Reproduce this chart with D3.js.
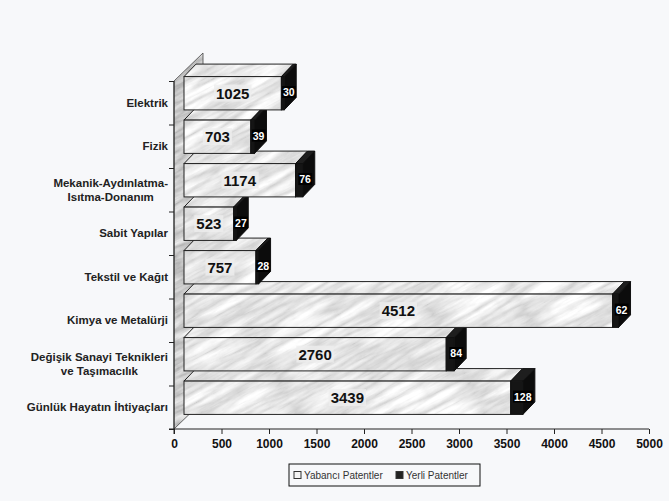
<!DOCTYPE html>
<html>
<head>
<meta charset="utf-8">
<script src="https://cdn.jsdelivr.net/npm/d3@7"></script>
<style>
  body { margin: 0; background: #f7f8fa; }
  text { font-family: "Liberation Sans", Arial, sans-serif; }
</style>
</head>
<body>
<div class="chart"></div>
<script>
// categories, top to bottom
const categories = [
    "Elektrik",
    "Fizik",
    "Mekanik-Aydınlatma-\nIsıtma-Donanım",
    "Sabit Yapılar",
    "Tekstil ve Kağıt",
    "Kimya ve Metalürji",
    "Değişik Sanayi Teknikleri\nve Taşımacılık",
    "Günlük Hayatın İhtiyaçları"
];
const yabanci = [1025, 703, 1174, 523, 757, 4512, 2760, 3439];
const yerli = [30, 39, 76, 27, 28, 62, 84, 128];
const xTicks = [0, 500, 1000, 1500, 2000, 2500, 3000, 3500, 4000, 4500, 5000];
const seriesNames = ["Yabancı Patentler", "Yerli Patentler"];

const outerWidth = 669;
const outerHeight = 501;

const svg = d3.select(".chart")
    .append("svg")
    .attr("width", outerWidth)
    .attr("height", outerHeight);

svg.append("rect")
    .attr("width", outerWidth)
    .attr("height", outerHeight)
    .attr("fill", "#f7f8fa");

// marble textures (one big tile so no seams show)
const defs = svg.append("defs");
function marble(id, base, gain, seed, freq) {
    const f = defs.append("filter")
        .attr("id", id + "F")
        .attr("x", 0).attr("y", 0).attr("width", 1).attr("height", 1);
    f.append("feTurbulence")
        .attr("type", "turbulence")
        .attr("baseFrequency", freq)
        .attr("numOctaves", 5)
        .attr("seed", seed);
    f.append("feColorMatrix")
        .attr("type", "matrix")
        .attr("values", `${gain} 0 0 0 ${base}  ${gain} 0 0 0 ${base}  ${gain} 0 0 0 ${base}  0 0 0 0 1`);
    const p = defs.append("pattern")
        .attr("id", id)
        .attr("patternUnits", "userSpaceOnUse")
        .attr("width", 1200).attr("height", 1200)
        .attr("patternTransform", "translate(-300,0) rotate(-28)");
    p.append("rect")
        .attr("width", 1200).attr("height", 1200)
        .attr("filter", `url(#${id}F)`);
}
marble("marbleBar", 0.6, 0.65, 4, "0.012 0.09");
marble("marbleWall", 0.4, 0.65, 9, "0.02 0.12");

// scales
const xScale = d3.scaleLinear()
    .domain([0, 5000])
    .range([174, 649]);

const yScale = d3.scaleBand()
    .domain(categories)
    .range([81, 429])
    .paddingInner(0.234)
    .paddingOuter(0.117);

const tickScale = d3.scaleLinear()
    .domain([0, categories.length])
    .range([81, 429]);

// 3D offsets
const front = {dx: 10, dy: 9.5};   // bars sit behind the axis plane
const depth = {dx: 12, dy: 12.5};  // bar depth
const wallDepth = {dx: 29, dy: 28};

// side wall
const x0 = xScale(0);
const yTop = tickScale(0), yBot = tickScale(categories.length);
svg.append("path")
    .attr("d", `M${x0},${yTop} L${x0 + wallDepth.dx},${yTop - wallDepth.dy} L${x0 + wallDepth.dx},${yBot - wallDepth.dy} L${x0},${yBot} Z`)
    .attr("fill", "url(#marbleWall)")
    .attr("stroke", "#444")
    .attr("stroke-width", 0.8);

// bars, bottom to top so upper bars cover the top faces below
const bars = svg.append("g");
const idx = d3.range(categories.length).reverse();

function quad(pts) {
    return "M" + pts.map(p => p.join(",")).join("L") + "Z";
}

idx.forEach(i => {
    const g = bars.append("g");
    const yf = yScale(categories[i]) - front.dy;
    const h = yScale.bandwidth();
    const xa = xScale(0) + front.dx;
    const xb = xScale(yabanci[i]) + front.dx;
    const xc = xScale(yabanci[i] + yerli[i]) + front.dx;

    // white top face
    g.append("path")
        .attr("d", quad([[xa, yf], [xa + depth.dx, yf - depth.dy], [xb + depth.dx, yf - depth.dy], [xb, yf]]))
        .attr("fill", "url(#marbleBar)")
        .attr("stroke", "#222").attr("stroke-width", 1);
    // white front
    g.append("rect")
        .attr("x", xa).attr("y", yf)
        .attr("width", xb - xa).attr("height", h)
        .attr("fill", "url(#marbleBar)")
        .attr("stroke", "#222").attr("stroke-width", 1);
    // dark top
    g.append("path")
        .attr("d", quad([[xb, yf], [xb + depth.dx, yf - depth.dy], [xc + depth.dx, yf - depth.dy], [xc, yf]]))
        .attr("fill", "#1e1e1e")
        .attr("stroke", "#111");
    // dark side
    g.append("path")
        .attr("d", quad([[xc, yf], [xc + depth.dx, yf - depth.dy], [xc + depth.dx, yf + h - depth.dy], [xc, yf + h]]))
        .attr("fill", "#0c0c0c")
        .attr("stroke", "#111");
    // dark front
    g.append("rect")
        .attr("x", xb).attr("y", yf)
        .attr("width", xc - xb).attr("height", h)
        .attr("fill", "#151515")
        .attr("stroke", "#111");
});

// value labels
const labels = svg.append("g");
categories.forEach((c, i) => {
    const yf = yScale(c) - front.dy;
    const yc = yf + yScale.bandwidth() / 2;
    const xa = xScale(0) + front.dx;
    const xb = xScale(yabanci[i]) + front.dx;
    const xc = xScale(yabanci[i] + yerli[i]) + front.dx;

    const t1 = labels.append("text")
        .attr("x", (xa + xb) / 2)
        .attr("y", yc)
        .attr("dy", "0.36em")
        .attr("text-anchor", "middle")
        .attr("font-size", 15)
        .attr("font-weight", "bold")
        .attr("fill", "#111")
        .text(yabanci[i]);
    const b1 = t1.node().getBBox();
    labels.insert("rect", () => t1.node())
        .attr("x", b1.x - 2).attr("y", b1.y)
        .attr("width", b1.width + 4).attr("height", b1.height)
        .attr("fill", "#eeeeee").attr("opacity", 0.8);

    const t2 = labels.append("text")
        .attr("x", (xb + xc + depth.dx) / 2)
        .attr("y", yc - 1)
        .attr("dy", "0.36em")
        .attr("text-anchor", "middle")
        .attr("font-size", 10.5)
        .attr("font-weight", "bold")
        .attr("fill", "#fff")
        .text(yerli[i]);
    const b2 = t2.node().getBBox();
    labels.insert("rect", () => t2.node())
        .attr("x", b2.x - 1).attr("y", b2.y)
        .attr("width", b2.width + 2).attr("height", b2.height)
        .attr("fill", "#000");
});

// category axis (ticks on band boundaries)
const yAxis = d3.axisLeft(tickScale)
    .tickValues(d3.range(0, categories.length + 1))
    .tickSize(5)
    .tickFormat("");
svg.append("g")
    .attr("class", "axis-y-axis")
    .attr("transform", `translate(${x0}, 0)`)
    .call(yAxis)
    .call(g => g.select(".domain").attr("d", `M0,${yTop}V${yBot + 5}`))
    .selectAll("line, path").attr("stroke", "#222");

// category labels (multi-line centred, block right aligned)
const catG = svg.append("g");
categories.forEach((c, i) => {
    const lines = c.split("\n");
    const bandMid = tickScale(i + 0.5);
    const texts = lines.map((l, k) => catG.append("text")
        .attr("y", bandMid + (k - (lines.length - 1) / 2) * 14.5)
        .attr("dy", "0.36em")
        .attr("text-anchor", "middle")
        .attr("font-size", 11.5)
        .attr("font-weight", "bold")
        .attr("fill", "#222")
        .text(l));
    const w = d3.max(texts, t => t.node().getComputedTextLength());
    texts.forEach(t => t.attr("x", 168 - w / 2));
});

// value axis
const xAxis = d3.axisBottom(xScale)
    .tickValues(xTicks)
    .tickFormat(d3.format("d"))
    .tickSize(5)
    .tickSizeOuter(0)
    .tickPadding(5);
svg.append("g")
    .attr("class", "axis-x-axis")
    .attr("transform", `translate(0, ${yBot})`)
    .call(xAxis)
    .call(g => g.select(".domain").attr("d", `M${x0 - 5},0H${xScale(5000)}`))
    .call(g => g.selectAll("line, path").attr("stroke", "#222"))
    .selectAll("text")
        .attr("font-size", 12)
        .attr("font-weight", "bold")
        .attr("fill", "#111")
        .attr("font-family", "'Liberation Sans', Arial, sans-serif");

// legend
const legend = svg.append("g").attr("transform", "translate(289, 464)");
legend.append("rect")
    .attr("width", 191).attr("height", 22)
    .attr("fill", "#f7f8fa")
    .attr("stroke", "#111");
const legX = [5, 107];
seriesNames.forEach((s, i) => {
    legend.append("rect")
        .attr("x", legX[i]).attr("y", 7.5)
        .attr("width", 7).attr("height", 7)
        .attr("fill", i === 0 ? "#f4f4f4" : "#222")
        .attr("stroke", "#333");
    legend.append("text")
        .attr("x", legX[i] + 10).attr("y", 11)
        .attr("dy", "0.36em")
        .attr("font-size", 10)
        .attr("fill", "#333")
        .text(s);
});
</script>
</body>
</html>
